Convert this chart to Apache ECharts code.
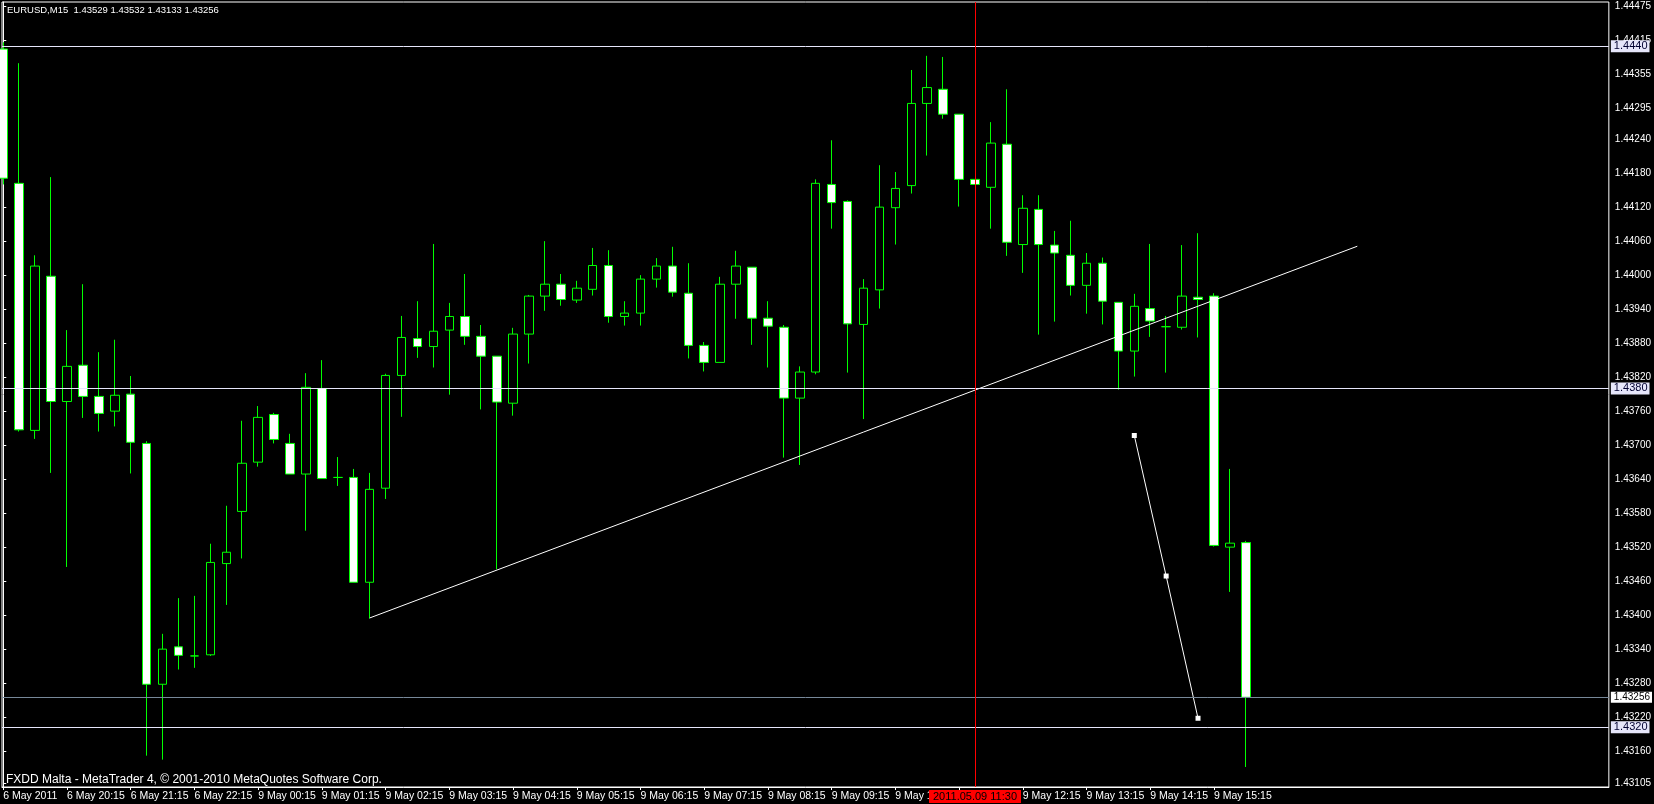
<!DOCTYPE html>
<html><head><meta charset="utf-8">
<script src="https://cdn.jsdelivr.net/npm/echarts@6/dist/echarts.min.js"></script>
<style>html,body{margin:0;padding:0;background:#000;}#c{width:1654px;height:804px;}</style>
</head><body><div id="c"></div>
<script>
const symbolName = 'EURUSD,M15';
const copyright = 'FXDD Malta - MetaTrader 4, \u00A9 2001-2010 MetaQuotes Software Corp.';
// OHLC of the 79 M15 bars (6 May 19:15 ... 9 May 15:45)
const opens = [1.44400,1.44163,1.43727,1.43999,1.43778,1.43842,1.43787,1.43761,1.43791,1.43704,
1.43279,1.43345,1.43329,1.43331,1.43492,1.43584,1.43671,1.43755,1.43704,1.43650,
1.43801,1.43644,1.43644,1.43459,1.43625,1.43824,1.43889,1.43875,1.43904,1.43928,
1.43893,1.43858,1.43775,1.43897,1.43964,1.43985,1.43957,1.43976,1.44018,1.43928,
1.43934,1.43994,1.44017,1.43969,1.43877,1.43847,1.43985,1.44015,1.43925,1.43909,
1.43784,1.43830,1.44161,1.44131,1.43914,1.43975,1.44120,1.44159,1.44304,1.44329,
1.44285,1.44170,1.44156,1.44232,1.44055,1.44117,1.44054,1.44036,1.43983,1.44022,
1.43953,1.43867,1.43942,1.43910,1.43909,1.43962,1.43964,1.43521,1.43529];
const closes = [1.44172,1.43728,1.44017,1.43778,1.43840,1.43787,1.43757,1.43789,1.43706,1.43279,
1.43341,1.43330,1.43329,1.43494,1.43512,1.43669,1.43750,1.43711,1.43650,1.43803,
1.43642,1.43644,1.43459,1.43623,1.43824,1.43891,1.43875,1.43902,1.43928,1.43893,
1.43858,1.43777,1.43897,1.43964,1.43985,1.43958,1.43978,1.44018,1.43928,1.43934,
1.43994,1.44017,1.43971,1.43877,1.43847,1.43985,1.44017,1.43925,1.43911,1.43784,
1.43830,1.44163,1.44129,1.43915,1.43978,1.44121,1.44154,1.44304,1.44332,1.44285,
1.44170,1.44161,1.44234,1.44059,1.44119,1.44055,1.44040,1.43983,1.44022,1.43955,
1.43867,1.43946,1.43920,1.43910,1.43964,1.43958,1.43524,1.43528,1.43256];
const lows = [1.44161,1.43725,1.43712,1.43652,1.43486,1.43749,1.43725,1.43734,1.43651,1.43153,
1.43146,1.43305,1.43308,1.43329,1.43419,1.43501,1.43663,1.43704,1.43650,1.43550,
1.43642,1.43629,1.43459,1.43395,1.43606,1.43751,1.43855,1.43838,1.43790,1.43878,
1.43764,1.43482,1.43753,1.43845,1.43938,1.43947,1.43952,1.43965,1.43917,1.43912,
1.43912,1.43979,1.43963,1.43854,1.43831,1.43847,1.43924,1.43878,1.43838,1.43679,
1.43666,1.43826,1.44083,1.43829,1.43747,1.43942,1.44055,1.44145,1.44212,1.44277,
1.44122,1.44161,1.44083,1.44035,1.44005,1.43896,1.43919,1.43965,1.43933,1.43914,
1.43799,1.43822,1.43892,1.43829,1.43905,1.43891,1.43522,1.43442,1.43133];
const highs = [1.44412,1.44375,1.44036,1.44174,1.43904,1.43985,1.43865,1.43887,1.43823,1.43708,
1.43368,1.43431,1.43435,1.43527,1.43594,1.43744,1.43770,1.43758,1.43721,1.43828,
1.43851,1.43680,1.43659,1.43652,1.43827,1.43929,1.43955,1.44056,1.43952,1.44003,
1.43913,1.43858,1.43908,1.43966,1.44061,1.44003,1.43991,1.44049,1.44045,1.43955,
1.44001,1.44031,1.44051,1.44022,1.43883,1.43998,1.44044,1.44015,1.43955,1.43913,
1.43840,1.44170,1.44239,1.44133,1.43994,1.44195,1.44183,1.44363,1.44388,1.44386,
1.44285,1.44170,1.44271,1.44329,1.44142,1.44142,1.44079,1.44097,1.44040,1.44032,
1.43953,1.43968,1.44056,1.43929,1.44054,1.44075,1.43969,1.43659,1.43532];

const xTickIndex = [0,4,8,12,16,20,24,28,32,36,40,44,48,52,56,60,64,68,72,76];
const xTickLabels = ['6 May 2011','6 May 20:15','6 May 21:15','6 May 22:15','9 May 00:15','9 May 01:15',
'9 May 02:15','9 May 03:15','9 May 04:15','9 May 05:15','9 May 06:15','9 May 07:15','9 May 08:15',
'9 May 09:15','9 May 10:15','9 May 11:15','9 May 12:15','9 May 13:15','9 May 14:15','9 May 15:15'];
const yTickValues = [1.44475,1.44415,1.44355,1.44295,1.44240,1.44180,1.44120,1.44060,1.44000,1.43940,
1.43880,1.43820,1.43760,1.43700,1.43640,1.43580,1.43520,1.43460,1.43400,1.43340,1.43280,1.43220,1.43160,1.43105];

const levelLines = [1.44405, 1.43801, 1.43203];
const bidPrice = 1.43256;
const trendLine = [[23, 1.43396], [85, 1.44052]];
const drawnLine = [[71, 1.43718], [73, 1.43470], [75, 1.43219]];
const markerIndex = 61;
const markerLabel = '2011.05.09 11:30';

const FONT = 'Liberation Sans';
const candles = opens.map((o, i) => [i, o, closes[i], lows[i], highs[i]]);
const last = opens.length - 1;
const headline = symbolName + '  ' + [opens[last], highs[last], lows[last], closes[last]].map(v => v.toFixed(5)).join(' ');

const chart = echarts.init(document.getElementById('c'), null, {renderer: 'canvas'});
chart.setOption({
  backgroundColor: '#000',
  animation: false,
  title: [
    {text: headline, left: 7, top: 5, padding: 0,
     textStyle: {color: '#fff', fontSize: 9.5, fontWeight: 'normal', fontFamily: FONT}},
    {text: copyright, left: 6, top: 774, padding: 0,
     textStyle: {color: '#fff', fontSize: 12, fontWeight: 'normal', fontFamily: FONT}}
  ],
  grid: {left: 2, right: 38, top: 2, bottom: 17, show: true, borderColor: '#fff', borderWidth: 1,
         backgroundColor: '#000', containLabel: false},
  xAxis: {
    type: 'value', min: -0.08, max: 100.79,
    splitLine: {show: false},
    axisLine: {show: true, lineStyle: {color: '#fff', width: 1}},
    axisTick: {show: true, customValues: xTickIndex, length: 3, lineStyle: {color: '#fff'}},
    axisLabel: {customValues: xTickIndex, color: '#fff', fontSize: 10.5, fontFamily: FONT,
      align: 'left', margin: 4,
      formatter: v => { const j = xTickIndex.indexOf(Math.round(v)); return j >= 0 ? xTickLabels[j] : ''; }}
  },
  yAxis: {
    type: 'value', position: 'right', min: 1.430977, max: 1.44483, scale: true,
    splitLine: {show: false},
    axisLine: {show: true, lineStyle: {color: '#fff', width: 1}},
    axisTick: {show: true, customValues: yTickValues, length: 3, lineStyle: {color: '#fff'}},
    axisLabel: {customValues: yTickValues, color: '#fff', fontSize: 10, fontFamily: FONT, margin: 6,
      formatter: v => v.toFixed(5)}
  },
  series: [
    {
      type: 'candlestick', data: candles, barWidth: 9, clip: true,
      itemStyle: {color: '#000', color0: '#fff', borderColor: '#00ff00', borderColor0: '#00ff00',
                  borderColorDoji: '#00ff00', borderWidth: 1},
      markLine: {
        silent: true, symbol: ['none', 'none'], animation: false, precision: 5,
        label: {show: true, position: 'end', distance: 2, fontSize: 11, fontFamily: FONT, padding: [1, 2, 0, 3]},
        data: [
          ...levelLines.map(v => ({yAxis: v, lineStyle: {color: '#e6e6fa', width: 1, type: 'solid'},
             label: {formatter: v.toFixed(5).slice(0, 6), backgroundColor: '#e6e6fa', color: '#000030'}})),
          {yAxis: bidPrice, lineStyle: {color: '#778899', width: 1, type: 'solid'},
             label: {formatter: bidPrice.toFixed(5), fontSize: 10, backgroundColor: '#fff', color: '#000'}},
          {xAxis: markerIndex, lineStyle: {color: '#ff0000', width: 1, type: 'solid'},
             label: {position: 'start', distance: 3, formatter: markerLabel, backgroundColor: '#ff0000',
                     color: '#000', padding: [1, 4, 1, 4]}}
        ]
      }
    },
    {type: 'line', data: trendLine, symbol: 'none', silent: true, z: 3,
     lineStyle: {color: '#fff', width: 1}},
    {type: 'line', data: drawnLine, symbol: 'rect', symbolSize: 5, showAllSymbol: true, silent: true, z: 3,
     itemStyle: {color: '#fff'}, lineStyle: {color: '#fff', width: 1}}
  ]
});
</script></body></html>
